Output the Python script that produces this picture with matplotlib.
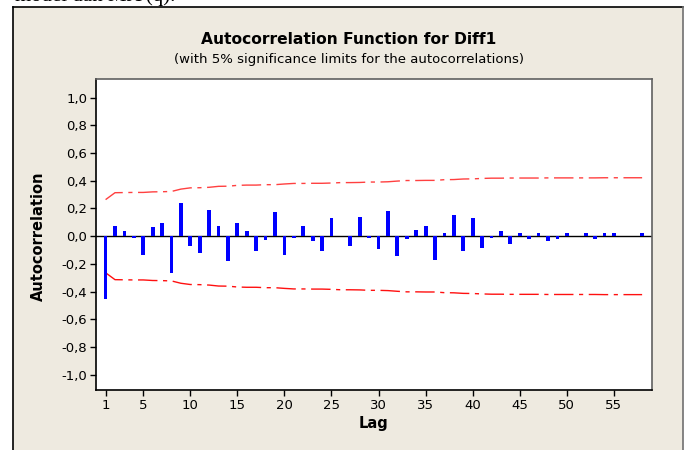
import numpy as np
import matplotlib
matplotlib.use("Agg")
import matplotlib.pyplot as plt
from matplotlib.patches import Rectangle
from matplotlib.lines import Line2D

# Datos (ACF de Diff1)
lags = list(range(1, 59))
acf = [-0.455, 0.070, 0.041, -0.012, -0.134, 0.063, 0.094, -0.268, 0.240, -0.070,
       -0.120, 0.190, 0.070, -0.180, 0.094, 0.040, -0.105, -0.031, 0.175, -0.134,
       -0.010, 0.070, -0.038, -0.105, 0.130, 0.003, -0.070, 0.137, -0.010, -0.090,
       0.180, -0.144, -0.020, 0.048, 0.070, -0.173, 0.020, 0.154, -0.105, 0.132,
       -0.084, -0.010, 0.040, -0.055, 0.026, -0.020, 0.026, -0.034, -0.020, 0.026,
       0.003, 0.020, -0.020, 0.026, 0.026, 0.003, 0.002, 0.020]
# limite superior del 5% (el inferior es simetrico)
limit = [0.264, 0.314, 0.315, 0.316, 0.316, 0.320, 0.321, 0.323, 0.340, 0.349,
         0.350, 0.353, 0.360, 0.361, 0.367, 0.369, 0.369, 0.372, 0.372, 0.377,
         0.381, 0.381, 0.382, 0.382, 0.384, 0.387, 0.387, 0.388, 0.391, 0.391,
         0.393, 0.398, 0.402, 0.402, 0.403, 0.403, 0.408, 0.409, 0.413, 0.414,
         0.417, 0.419, 0.419, 0.420, 0.420, 0.420, 0.420, 0.421, 0.421, 0.421,
         0.421, 0.421, 0.421, 0.422, 0.422, 0.422, 0.422, 0.422]
xticks = [1, 5, 10, 15, 20, 25, 30, 35, 40, 45, 50, 55]
yticks = [-1.0, -0.8, -0.6, -0.4, -0.2, 0.0, 0.2, 0.4, 0.6, 0.8, 1.0]

plt.rcParams["font.family"] = ["DejaVu Sans"]

W, H = 688, 450
fig = plt.figure(figsize=(W / 100, H / 100), dpi=100)
fig.patch.set_facecolor("white")

# Panel beige de fondo (estilo Minitab)
px = lambda x: x / W
py = lambda y: 1 - y / H
fig.patches.append(Rectangle((px(12.5), 0), px(683) - px(12.5), py(7), transform=fig.transFigure,
                             facecolor="#EEEAE0", edgecolor="none", zorder=-2))
fig.lines.append(Line2D([px(12.5), px(12.5)], [0, py(7)], transform=fig.transFigure, color="black", lw=1.2, zorder=-1))
fig.lines.append(Line2D([px(12.5), px(683)], [py(7), py(7)], transform=fig.transFigure, color="black", lw=1.2, zorder=-1))
fig.lines.append(Line2D([px(683), px(683)], [0, py(7)], transform=fig.transFigure, color="#707070", lw=1.2, zorder=-1))

# Texto del documento, cortado arriba como en la captura
fig.text(px(15), py(1), "model dan MA (q).", family="Liberation Serif", fontsize=15, va="baseline")

ax = fig.add_axes([px(95.7), py(390.3), px(652) - px(95.7), py(79.3) - py(390.3)])
ax.set_zorder(1)
ax.set_facecolor("white")

ax.bar(lags, acf, width=0.4, color="#0000FF", zorder=3)
ax.axhline(0, color="black", lw=1.0, zorder=2)
dash = (0, (14, 4, 3, 4))
ax.plot(lags, limit, color="#FF4040", lw=1.0, linestyle=dash, zorder=2)
ax.plot(lags, [-v for v in limit], color="#FF1010", lw=1.0, linestyle=dash, zorder=2)

ax.set_xlim(-0.05, 59.05)
ax.set_ylim(-1.113, 1.133)
ax.set_xticks(xticks)
ax.set_xticklabels([str(t) for t in xticks])
ax.set_yticks(yticks)
ax.set_yticklabels([f"{t:.1f}".replace(".", ",") for t in yticks])
ax.tick_params(axis="both", direction="out", length=4, width=1, labelsize=9.5, pad=2)

for s in ["left", "bottom"]:
    ax.spines[s].set_color("black")
    ax.spines[s].set_linewidth(1.2)
for s in ["top", "right"]:
    ax.spines[s].set_color("#606060")
    ax.spines[s].set_linewidth(1.2)

ax.set_xlabel("Lag", fontsize=10.5, fontweight="bold", labelpad=3)
fig.text(px(38), py(236), "Autocorrelation", rotation=90, fontsize=10.5, fontweight="bold",
         ha="center", va="center")

fig.text(px(349), py(40), "Autocorrelation Function for Diff1", fontsize=11.2, fontweight="bold",
         ha="center", va="center")
fig.text(px(349), py(59), "(with 5% significance limits for the autocorrelations)", fontsize=9.5,
         ha="center", va="center")

plt.savefig("out.png", dpi=100, facecolor=fig.get_facecolor())
